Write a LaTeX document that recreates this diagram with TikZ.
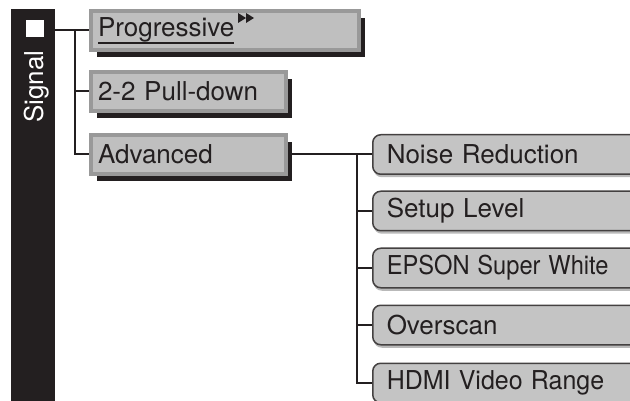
\documentclass[tikz,border=0pt]{standalone}
\usepackage{fontspec}
\setmainfont{TeX Gyre Heros}
\usepackage{graphicx}
\usetikzlibrary{shadows}
\definecolor{inkblack}{HTML}{231F20}
\definecolor{framegray}{gray}{0.6}
\definecolor{boxgray}{gray}{0.75}
\definecolor{subgray}{gray}{0.77}
\newcommand{\ulword}[1]{\setbox0\hbox{#1}\rlap{\rule[-7.5pt]{\wd0}{2pt}}#1}

\begin{document}
\begin{tikzpicture}[x=1pt, y=-1pt,
    menubox/.style={draw=framegray, fill=boxgray, line width=4pt, inner xsep=7pt, align=left,
      minimum height=39pt, anchor=north west, text=inkblack, font=\fontsize{26}{30}\selectfont,
      drop shadow={shadow xshift=6pt, shadow yshift=-7pt, fill=inkblack, opacity=1}},
    subbox/.style={draw=inkblack!85, fill=subgray, line width=1.5pt, rounded corners=8pt,
      inner xsep=14pt, align=left, text width=258pt, minimum height=39.5pt, anchor=west,
      text=inkblack, font=\fontsize{26}{30}\selectfont,
      drop shadow={shadow xshift=1pt, shadow yshift=-3pt, fill=gray!55, opacity=1}},
    link/.style={draw=inkblack, line width=2pt}]
    \useasboundingbox (0,0) rectangle (630,401);
    \clip (0,0) rectangle (630,401);
    % signal tab
    \node [fill=inkblack, minimum width=44pt, minimum height=400pt, inner sep=0, anchor=north west] (sigbar) at (11,9) {};
    \node [fill=white, minimum width=18.5pt, minimum height=16.7pt, inner sep=0] (sq) at (35,28.4) {};
    \node [rotate=90, anchor=base, text=white, font=\fontsize{26}{30}\selectfont] (sig) at (43,86.5) {Signal};
    % first level
    \node [menubox, text width=254pt] (prog) at (89,9) {\ulword{Progressive}};
    \node [menubox, text width=181pt] (pull) at (89,70) {2-2 Pull-down};
    \node [menubox, text width=181pt] (adv) at (89,133) {Advanced};
    \fill [inkblack] (238,13) -- (246,18) -- (238,23) -- cycle;
    \fill [inkblack] (246,13) -- (254,18) -- (246,23) -- cycle;
    % second level
    \node [subbox] (noise) at (372,154.5) {Noise Reduction};
    \node [subbox] (setup) at (372,211) {Setup Level};
    \node [subbox] (epson) at (372,268) {\scalebox{0.91}[1]{EPSON Super White}};
    \node [subbox] (overscan) at (372,325) {Overscan};
    \node [subbox] (hdmi) at (372,383) {\scalebox{0.96}[1]{HDMI Video Range}};
    % connectors
    \coordinate (fork1) at (75,30.5);
    \coordinate (fork2) at (357,154.5);
    \draw [link] (sigbar.east |- prog.west) -- (prog.west);
    \foreach \n in {pull,adv} { \draw [link] (fork1) |- (\n.west); }
    \draw [link] (adv.east) -- (noise.west);
    \foreach \n in {setup,epson,overscan,hdmi} { \draw [link] (fork2) |- (\n.west); }
\end{tikzpicture}
\end{document}
